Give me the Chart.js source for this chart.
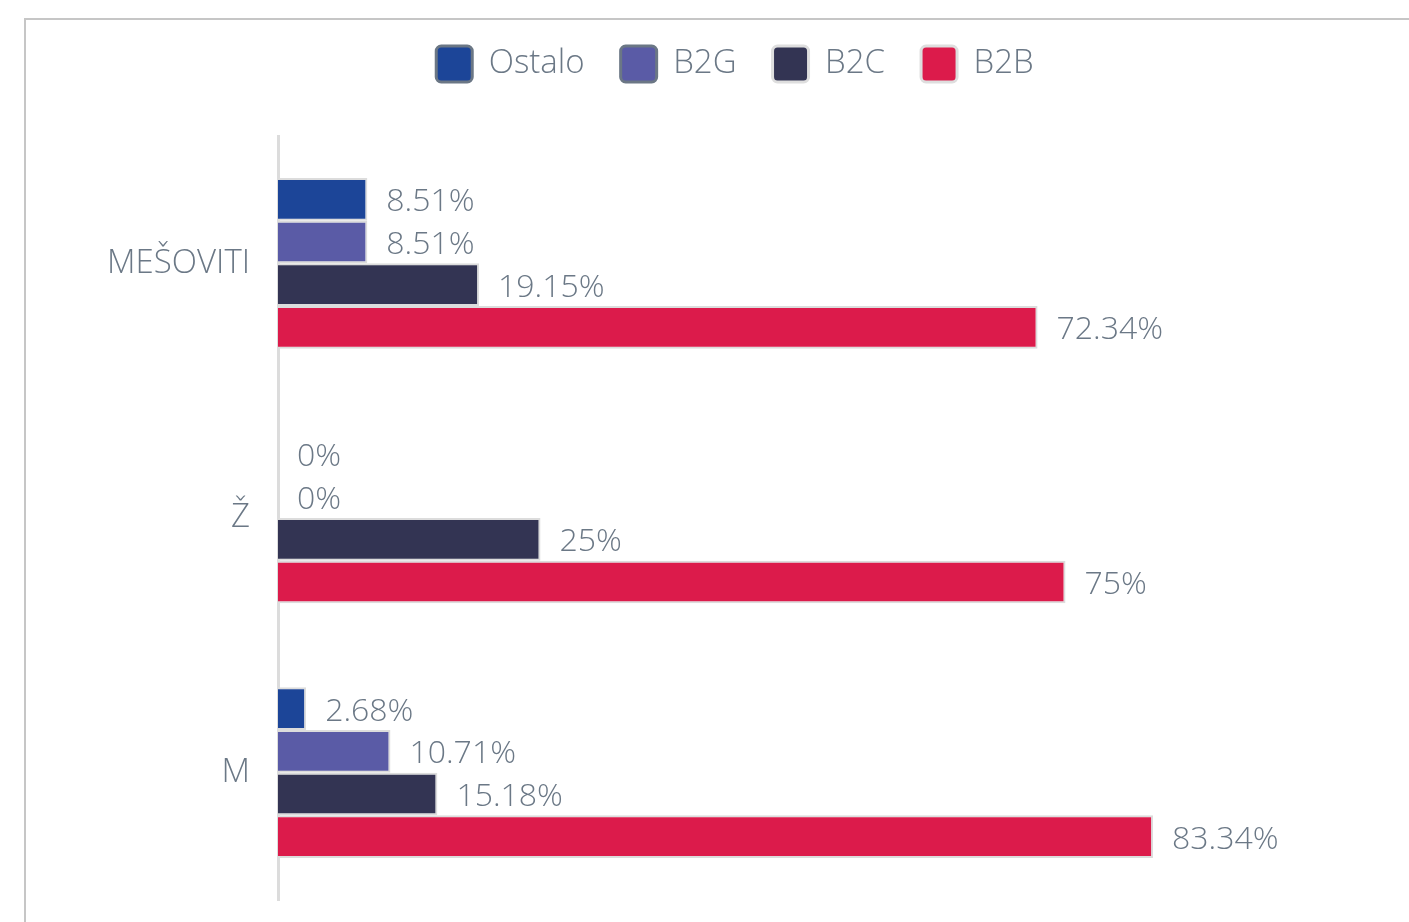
<!DOCTYPE html>
<html>
<head>
<meta charset="utf-8">
<script src="https://cdn.jsdelivr.net/npm/chart.js@4.4.1/dist/chart.umd.min.js"></script>
<style>
  html, body { margin: 0; padding: 0; background: #ffffff; overflow: hidden; }
  body { width: 1409px; height: 922px; position: relative; }
  .frame {
    position: absolute; left: 24px; top: 18px;
    width: 1440px; height: 940px;
    border: 2px solid #c6c6c6;
  }
  .wrap { position: absolute; left: 0; top: 0; width: 1418px; height: 902px; }
</style>
</head>
<body>
<div class="frame">
  <div class="wrap"><canvas id="chart"></canvas></div>
</div>
<script>
// Categories and series shares (percent)
const categories = ['MEŠOVITI', 'Ž', 'M'];
const seriesNames = ['Ostalo', 'B2G', 'B2C', 'B2B'];
const ostalo = [8.51, 0, 2.68];
const b2g = [8.51, 0, 10.71];
const b2c = [19.15, 25, 15.18];
const b2b = [72.34, 75, 83.34];

const fillColors = ['#1c4598', '#5a5ba6', '#333453', '#dc1b4b'];
const legendStroke = ['#6b7785', '#6b7785', '#dedede', '#dedede'];
const textColor = '#6b7886';
const fontFamily = '"Open Sans", "DejaVu Sans", sans-serif';

const seriesValues = [ostalo, b2g, b2c, b2b];

// Value labels to the right of each bar
const valueLabels = {
  id: 'valueLabels',
  afterDatasetsDraw(chart) {
    const ctx = chart.ctx;
    ctx.save();
    ctx.font = '300 32px ' + fontFamily;
    ctx.fillStyle = textColor;
    ctx.textAlign = 'left';
    ctx.textBaseline = 'middle';
    chart.data.datasets.forEach((ds, di) => {
      const meta = chart.getDatasetMeta(di);
      meta.data.forEach((bar, i) => {
        ctx.fillText(String(ds.data[i]) + '%', bar.x + 19, bar.y + 3);
      });
    });
    ctx.restore();
  }
};

// Extra room below the legend, and centre it across the whole canvas
const legendLayout = {
  id: 'legendLayout',
  beforeInit(chart) {
    const origFit = chart.legend.fit;
    chart.legend.fit = function () {
      origFit.bind(chart.legend)();
      this.height += 44;
    };
  },
  afterLayout(chart) {
    const lg = chart.legend;
    lg.left = 0;
    lg.right = chart.width;
    lg.width = chart.width;
  }
};

new Chart(document.getElementById('chart'), {
  type: 'bar',
  data: {
    labels: categories,
    datasets: seriesNames.map((name, i) => ({
      label: name,
      data: seriesValues[i],
      backgroundColor: fillColors[i],
      borderColor: '#dcdcdc',
      borderWidth: 2,
      categoryPercentage: 0.67,
      barPercentage: 1
    }))
  },
  options: {
    indexAxis: 'y',
    responsive: true,
    maintainAspectRatio: false,
    animation: false,
    layout: { padding: { left: 0, right: 116, top: -10, bottom: 22 } },
    scales: {
      x: {
        display: false,
        min: 0,
        max: 100
      },
      y: {
        grid: { display: false, drawTicks: false },
        border: { display: true, color: '#dcdcdc', width: 3 },
        ticks: {
          color: textColor,
          font: { family: fontFamily, size: 33, weight: '300' },
          padding: 28
        },
        afterFit(scale) {
          scale.width = 252;
          scale.paddingTop = 0;
          scale.paddingBottom = 0;
        }
      }
    },
    plugins: {
      tooltip: { enabled: false },
      legend: {
        position: 'top',
        align: 'center',
        labels: {
          boxWidth: 36,
          boxHeight: 36,
          padding: 36,
          color: textColor,
          useBorderRadius: true,
          borderRadius: 5,
          font: { family: fontFamily, size: 33, weight: '300' },
          generateLabels(chart) {
            return chart.data.datasets.map((ds, i) => ({
              text: ds.label,
              fillStyle: fillColors[i],
              strokeStyle: legendStroke[i],
              lineWidth: 3,
              fontColor: textColor,
              hidden: false,
              datasetIndex: i,
              borderRadius: 5
            }));
          }
        }
      }
    }
  },
  plugins: [valueLabels, legendLayout]
});
</script>
</body>
</html>
